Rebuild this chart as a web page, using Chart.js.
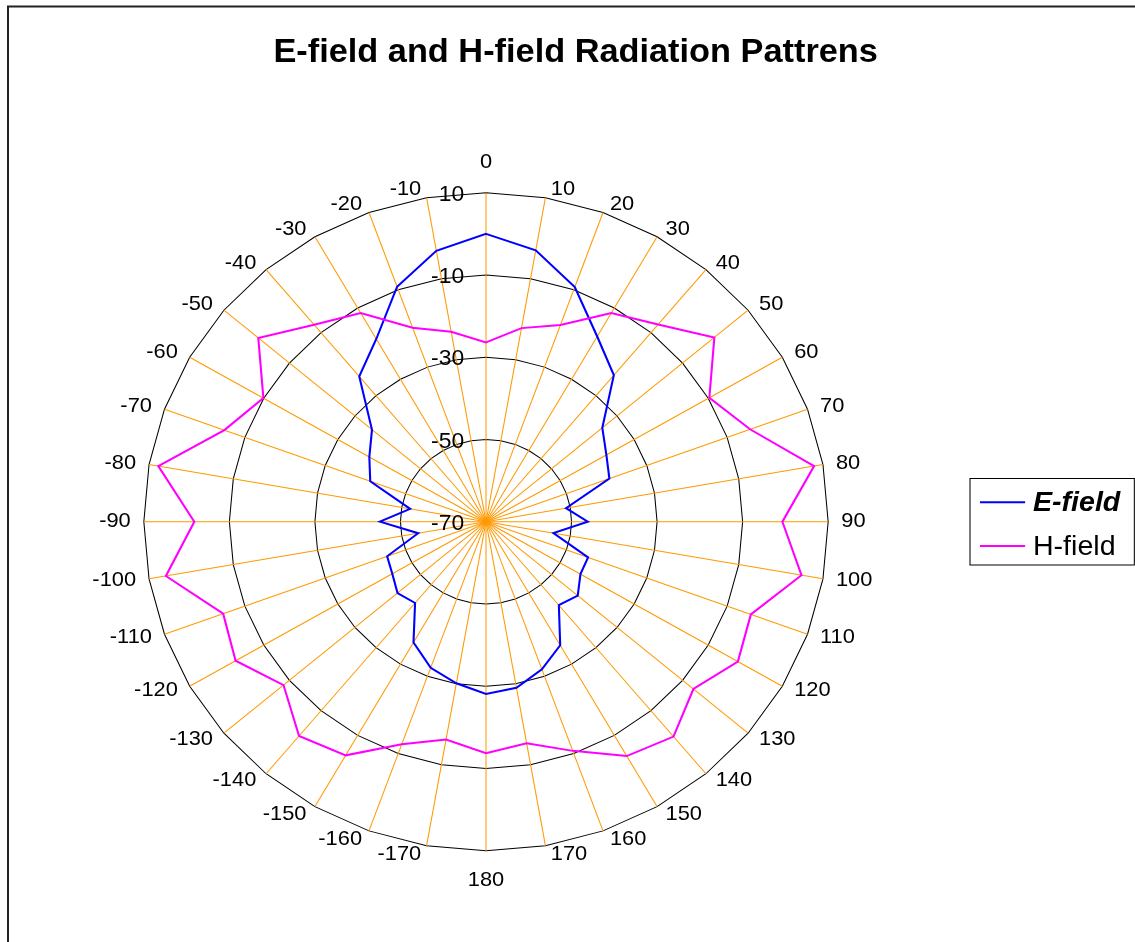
<!DOCTYPE html>
<html>
<head>
<meta charset="utf-8">
<title>E-field and H-field Radiation Pattrens</title>
<script src="https://cdn.jsdelivr.net/npm/chart.js@4/dist/chart.umd.min.js"></script>
<style>
  html, body { margin: 0; padding: 0; background: #ffffff; }
  canvas { display: block; }
</style>
</head>
<body>
<canvas id="pattern" width="1135" height="942" style="width:1135px;height:942px"></canvas>
<script>
// Measurement angles (degrees), clockwise from the top of the pattern
const ANGLE_LABELS = ['0', '10', '20', '30', '40', '50', '60', '70', '80', '90',
  '100', '110', '120', '130', '140', '150', '160', '170', '180',
  '-170', '-160', '-150', '-140', '-130', '-120', '-110', '-100', '-90',
  '-80', '-70', '-60', '-50', '-40', '-30', '-20', '-10'];

// Received level (dB) per angle
const E_FIELD = [0, -3, -9.3, -18, -23.5, -34.5, -37.5, -39.3, -51, -46.2,
  -54, -44.6, -44.5, -42, -43.5, -35.3, -31.8, -29, -28.1,
  -30.1, -32.2, -36.1, -44.2, -43, -44.7, -45.4, -53.9, -45.2,
  -52, -41.2, -38.5, -35.2, -23.9, -18.7, -9.2, -3.1];

const H_FIELD = [-26.4, -22.2, -19.1, -11.4, -7.4, -0.3, -9.7, -4.3, 7.9, -0.7,
  4.9, -4.1, -2, -6.7, -1.8, -4.2, -10.7, -15.3, -13.7,
  -16.2, -12.4, -4.4, -2, -8.2, -2.4, -4.6, 6, -1.8,
  7.8, -4.9, -9.9, -0.5, -7.5, -11.4, -19.8, -23.1];

// Radial axis tick values (dB)
const RADIAL_TICKS = [-70, -50, -30, -10, 10];

const SERIES_NAMES = ['E-field', 'H-field'];
const TITLE = 'E-field and H-field Radiation Pattrens';

// ---- layout / style ----
const FONT = '"Liberation Sans", Arial, Helvetica, sans-serif';
const STRETCH_X = 1.04;              // whole drawing is slightly wider than tall
const CENTER_X = 486 / STRETCH_X;    // radar centre, in unstretched units
const CENTER_Y = 521.7;
const RADIUS = 329;
const TICK_FONT = '22px ' + FONT;
const ANGLE_FONT = '21px ' + FONT;
const ANGLE_LABEL_RADIUS = RADIUS + 9;   // side labels: vertically centred on the ray
const ANGLE_LABEL_POLE = RADIUS + 30;    // labels at 0 and 180
const ANGLE_LABEL_NUDGE = 3.6;           // horizontal gap beyond the ray point
const LEGEND_FONTS = ['italic bold 27.5px ' + FONT, '27.5px ' + FONT];
const LEGEND_BOX = { x: 932.7, y: 478.5, w: 158, h: 86.5 };

// Radial scale with a fixed centre and radius
const RadialBase = Chart.RadialLinearScale || Chart.registry.getScale('radialLinear');
class FixedRadialScale extends RadialBase {
  setCenterPoint() {
    this.xCenter = CENTER_X;
    this.yCenter = CENTER_Y;
    this.drawingArea = RADIUS;
  }
}
FixedRadialScale.id = 'fixedRadial';
FixedRadialScale.defaults = RadialBase.defaults;
Chart.register(FixedRadialScale);

function drawAngleLabels(chart) {
  const scale = chart.scales.r;
  const ctx = chart.ctx;
  ctx.save();
  ctx.font = ANGLE_FONT;
  ctx.fillStyle = '#000';
  ctx.textBaseline = 'middle';
  chart.data.labels.forEach((label, i) => {
    const side = scale.getPointPosition(i, ANGLE_LABEL_RADIUS);
    const s = Math.sin(scale.getIndexAngle(i));
    if (Math.abs(s) < 1e-6) {
      const pole = scale.getPointPosition(i, ANGLE_LABEL_POLE);
      ctx.textAlign = 'center';
      ctx.fillText(label, pole.x, pole.y);
    } else {
      ctx.textAlign = s > 0 ? 'left' : 'right';
      ctx.fillText(label, side.x + Math.sign(s) * ANGLE_LABEL_NUDGE, side.y);
    }
  });
  ctx.restore();
}

function drawTickLabels(chart) {
  const scale = chart.scales.r;
  const ctx = chart.ctx;
  ctx.save();
  ctx.font = TICK_FONT;
  ctx.fillStyle = '#000';
  ctx.textAlign = 'right';
  ctx.textBaseline = 'middle';
  scale.ticks.forEach(t => {
    const y = scale.yCenter - scale.getDistanceFromCenterForValue(t.value);
    ctx.fillText(String(t.value), scale.xCenter - 21, y + 2);
  });
  ctx.restore();
}

function drawLegend(chart) {
  const ctx = chart.ctx;
  const b = LEGEND_BOX;
  ctx.save();
  ctx.strokeStyle = '#000';
  ctx.lineWidth = 1;
  ctx.strokeRect(b.x, b.y, b.w, b.h);
  chart.data.datasets.forEach((ds, i) => {
    const y = b.y + 23.8 + i * 43.7;
    ctx.strokeStyle = ds.borderColor;
    ctx.lineWidth = 2;
    ctx.beginPath();
    ctx.moveTo(b.x + 9.6, y);
    ctx.lineTo(b.x + 53, y);
    ctx.stroke();
    ctx.font = LEGEND_FONTS[i];
    ctx.fillStyle = '#000';
    ctx.textAlign = 'left';
    ctx.textBaseline = 'middle';
    ctx.fillText(ds.label, b.x + 60.5, y + 1);
  });
  ctx.restore();
}

const frame = {
  id: 'frame',
  beforeDraw(chart) {
    const ctx = chart.ctx;
    ctx.save();
    ctx.fillStyle = '#ffffff';
    ctx.fillRect(0, 0, chart.width, chart.height);
    ctx.strokeStyle = '#222';
    ctx.lineWidth = 2;
    ctx.strokeRect(8, 6.5, chart.width + 40, chart.height + 40);
    ctx.restore();
    ctx.save();
    ctx.scale(STRETCH_X, 1);
  },
  afterDraw(chart) {
    drawAngleLabels(chart);
    drawTickLabels(chart);
    drawLegend(chart);
    chart.ctx.restore();
  }
};

new Chart(document.getElementById('pattern'), {
  type: 'radar',
  data: {
    labels: ANGLE_LABELS,
    datasets: [
      { label: SERIES_NAMES[0], data: E_FIELD, borderColor: '#0000FF', order: 1 },
      { label: SERIES_NAMES[1], data: H_FIELD, borderColor: '#FF00FF', order: 0 }
    ].map(d => Object.assign({
      backgroundColor: 'transparent', fill: false, borderWidth: 2,
      pointRadius: 0, pointHoverRadius: 0, tension: 0, clip: false
    }, d))
  },
  options: {
    responsive: false,
    animation: false,
    events: [],
    layout: { padding: { left: 0, right: 28, top: 0, bottom: 0 } },
    plugins: {
      legend: { display: false },
      tooltip: { enabled: false },
      title: {
        display: true,
        text: TITLE,
        color: '#000',
        font: { family: FONT, size: 33, weight: 'bold', lineHeight: 1.2 },
        padding: { top: 33, bottom: 10 }
      }
    },
    scales: {
      r: {
        type: 'fixedRadial',
        min: -70,
        max: 10,
        startAngle: 0,
        afterBuildTicks: s => { s.ticks = RADIAL_TICKS.map(v => ({ value: v })); },
        ticks: { display: false },
        grid: { circular: false, color: '#000', lineWidth: 1 },
        angleLines: { display: true, color: '#FF9900', lineWidth: 1 },
        pointLabels: { display: false, font: { family: FONT, size: 21 } }
      }
    }
  },
  plugins: [frame]
});
</script>
</body>
</html>
